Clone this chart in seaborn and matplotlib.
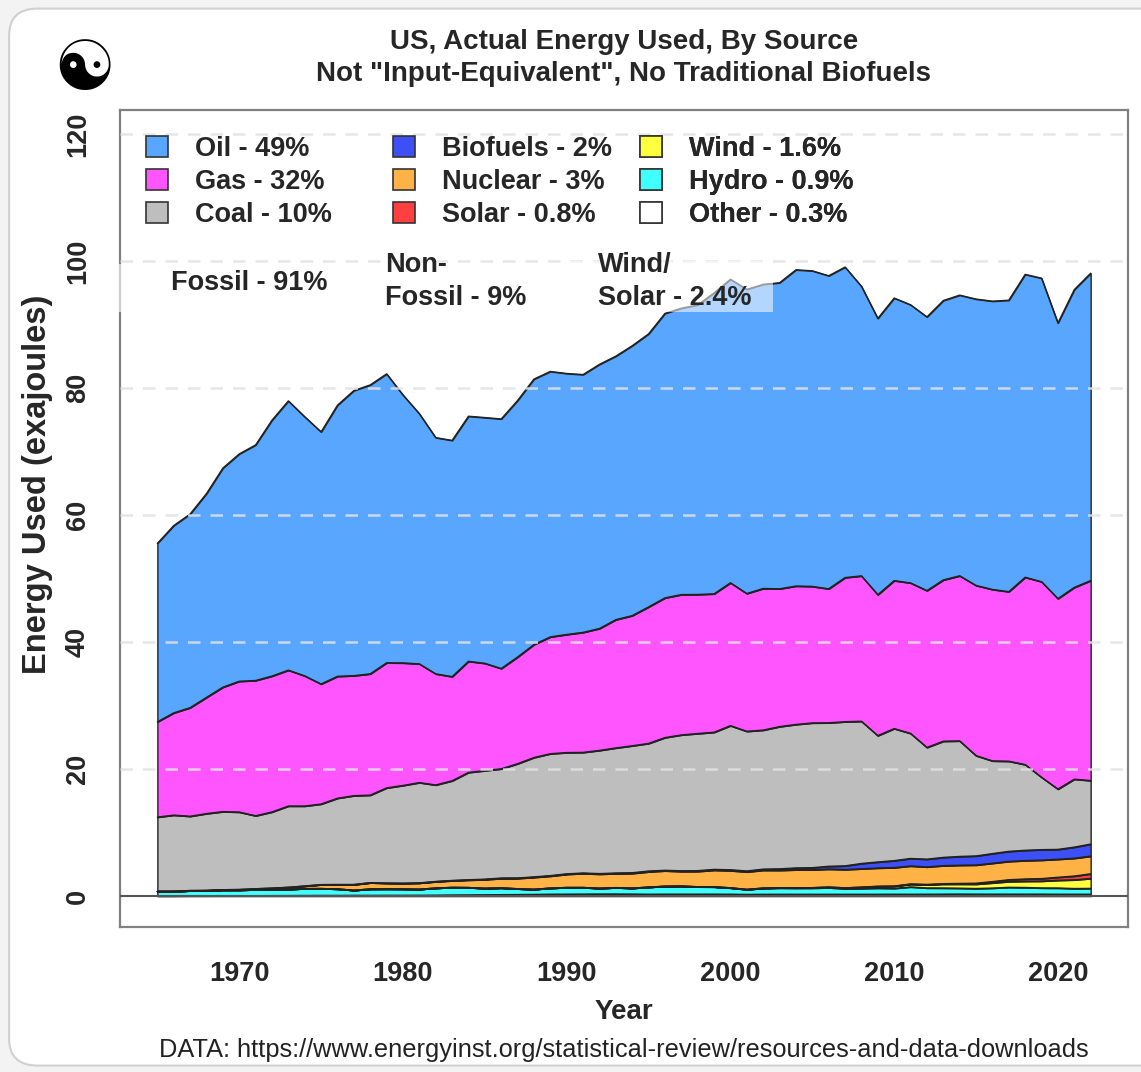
import numpy as np
import pandas as pd
import matplotlib
matplotlib.use('Agg')
import matplotlib.pyplot as plt
from matplotlib.patches import Patch, Rectangle, FancyBboxPatch
import seaborn as sns

# anos
years = list(range(1965, 2023))

# energia usada por fonte (EJ)
oil = [28.1, 29.5, 30.5, 32.1, 34.5, 35.8, 37.1, 40.3, 42.4, 40.8,
       39.7, 42.7, 44.9, 45.5, 45.5, 42.2, 39.4, 37.2, 37.2, 38.6,
       38.7, 39.3, 40.4, 41.8, 41.8, 41.1, 40.6, 41.6, 41.5, 42.5,
       43.0, 44.8, 45.1, 45.6, 47.4, 47.8, 47.9, 47.9, 48.2, 49.8,
       49.7, 49.3, 48.9, 45.6, 43.5, 44.5, 43.8, 43.1, 44.0, 44.2,
       45.1, 45.4, 45.9, 47.7, 47.8, 43.4, 46.9, 48.4]
gas = [15.0, 16.1, 17.1, 18.3, 19.6, 20.6, 21.3, 21.4, 21.4, 20.5,
       18.9, 19.2, 18.9, 19.1, 19.7, 19.3, 18.7, 17.5, 16.4, 17.5,
       16.9, 15.8, 16.8, 17.8, 18.4, 18.6, 18.9, 19.2, 20.2, 20.5,
       21.5, 22.0, 22.1, 21.9, 21.8, 22.5, 21.7, 22.3, 21.7, 21.8,
       21.5, 21.1, 22.7, 22.9, 22.2, 23.3, 23.7, 24.7, 25.4, 26.0,
       26.8, 27.0, 26.7, 29.5, 30.8, 30.0, 30.2, 31.5]
coal = [11.7, 12.0, 11.7, 12.1, 12.3, 12.2, 11.5, 12.0, 12.8, 12.6,
        12.7, 13.6, 14.0, 13.8, 15.0, 15.4, 15.8, 15.2, 15.7, 16.9,
        17.1, 17.2, 18.0, 18.8, 19.2, 19.1, 19.0, 19.4, 19.7, 20.0,
        20.1, 20.9, 21.4, 21.6, 21.6, 22.7, 22.0, 21.9, 22.4, 22.6,
        22.8, 22.6, 22.7, 22.4, 19.9, 20.8, 19.7, 17.6, 18.3, 18.2,
        15.8, 14.6, 14.2, 13.5, 11.4, 9.5, 10.7, 10.0]
biofuels = [0, 0, 0, 0, 0, 0, 0, 0, 0, 0,
            0, 0, 0, 0, 0, 0.01, 0.02, 0.03, 0.04, 0.05,
            0.06, 0.07, 0.07, 0.07, 0.07, 0.07, 0.07, 0.08, 0.09, 0.10,
            0.11, 0.08, 0.10, 0.11, 0.12, 0.13, 0.14, 0.17, 0.23, 0.29,
            0.33, 0.44, 0.58, 0.83, 0.95, 1.10, 1.18, 1.22, 1.30, 1.38,
            1.43, 1.52, 1.58, 1.62, 1.65, 1.55, 1.75, 1.90]
nuclear = [0.01, 0.02, 0.03, 0.05, 0.05, 0.08, 0.14, 0.20, 0.30, 0.41,
           0.62, 0.69, 0.90, 0.99, 0.92, 0.90, 0.98, 1.01, 1.06, 1.18,
           1.38, 1.49, 1.63, 1.89, 1.90, 2.08, 2.21, 2.23, 2.21, 2.32,
           2.42, 2.43, 2.31, 2.42, 2.62, 2.71, 2.76, 2.81, 2.75, 2.84,
           2.82, 2.83, 2.89, 2.89, 2.88, 2.91, 2.84, 2.76, 2.84, 2.87,
           2.87, 2.89, 2.89, 2.90, 2.91, 2.84, 2.81, 2.78]
solar = [0, 0, 0, 0, 0, 0, 0, 0, 0, 0,
         0, 0, 0, 0, 0, 0, 0, 0, 0, 0,
         0, 0, 0, 0, 0, 0, 0, 0, 0, 0,
         0, 0, 0, 0, 0, 0, 0, 0, 0, 0,
         0, 0, 0, 0.01, 0.01, 0.01, 0.03, 0.04, 0.07, 0.10,
         0.14, 0.20, 0.28, 0.35, 0.39, 0.47, 0.59, 0.74]
wind = [0, 0, 0, 0, 0, 0, 0, 0, 0, 0,
        0, 0, 0, 0, 0, 0, 0, 0, 0, 0,
        0, 0, 0, 0, 0, 0.01, 0.01, 0.01, 0.01, 0.01,
        0.01, 0.01, 0.01, 0.01, 0.02, 0.02, 0.02, 0.04, 0.04, 0.05,
        0.06, 0.10, 0.12, 0.20, 0.27, 0.34, 0.43, 0.51, 0.61, 0.65,
        0.69, 0.82, 0.91, 0.99, 1.08, 1.22, 1.37, 1.56]
hydro = [0.70, 0.70, 0.80, 0.80, 0.90, 0.90, 0.95, 0.98, 1.00, 1.08,
         1.08, 1.02, 0.80, 1.00, 1.00, 0.99, 0.94, 1.12, 1.20, 1.16,
         1.02, 1.06, 0.91, 0.80, 0.96, 1.04, 1.03, 0.90, 1.00, 0.93,
         1.11, 1.24, 1.26, 1.16, 1.14, 0.99, 0.77, 0.94, 0.99, 0.97,
         0.98, 1.04, 0.89, 0.92, 0.98, 0.93, 1.15, 0.99, 0.97, 0.93,
         0.89, 0.96, 1.08, 1.05, 0.98, 0.98, 0.90, 0.92]
other = [0.03, 0.03, 0.04, 0.04, 0.05, 0.05, 0.06, 0.07, 0.08, 0.09,
         0.10, 0.10, 0.11, 0.11, 0.12, 0.12, 0.13, 0.14, 0.16, 0.18,
         0.20, 0.22, 0.24, 0.26, 0.29, 0.30, 0.31, 0.32, 0.32, 0.31,
         0.29, 0.30, 0.30, 0.30, 0.30, 0.29, 0.26, 0.28, 0.28, 0.28,
         0.28, 0.28, 0.28, 0.28, 0.28, 0.29, 0.29, 0.29, 0.30, 0.31,
         0.30, 0.30, 0.30, 0.30, 0.30, 0.29, 0.29, 0.29]

# legenda (colunas: fosseis / nuclear+bio+solar / vento+hidro+outros)
legend_cols = [
    ['Oil - 49%', 'Gas - 32%', 'Coal - 10%'],
    ['Biofuels - 2%', 'Nuclear - 3%', 'Solar - 0.8%'],
    ['Wind - 1.6%', 'Hydro - 0.9%', 'Other - 0.3%'],
]
cores = {
    'Oil': '#58A6FF', 'Gas': '#FF55FF', 'Coal': '#BEBEBE',
    'Biofuels': '#3C50F5', 'Nuclear': '#FFB347', 'Solar': '#FF4040',
    'Wind': '#FFFF40', 'Hydro': '#40FFFF', 'Other': '#FFFFFF',
}

# ordem de empilhamento (de baixo para cima)
ordem = ['Other', 'Hydro', 'Wind', 'Solar', 'Nuclear', 'Biofuels', 'Coal', 'Gas', 'Oil']
series = {'Other': other, 'Hydro': hydro, 'Wind': wind, 'Solar': solar,
          'Nuclear': nuclear, 'Biofuels': biofuels, 'Coal': coal,
          'Gas': gas, 'Oil': oil}

sns.set_style('white')
plt.rcParams['font.family'] = ['Liberation Sans', 'DejaVu Sans']

fig = plt.figure(figsize=(11.41, 10.72), dpi=100)
fig.patch.set_facecolor('#f3f3f3')
fig.patches.append(FancyBboxPatch((0.008, 0.006), 1.05, 0.986,
                                  boxstyle='round,pad=0,rounding_size=0.025',
                                  transform=fig.transFigure, facecolor='white',
                                  edgecolor='#d0d0d0', lw=1.5, zorder=-5))

ax = fig.add_axes([0.1052, 0.1355, 0.8834, 0.7619])
ax.patch.set_alpha(0)

ax.stackplot(years, *[series[k] for k in ordem],
             colors=[cores[k] for k in ordem],
             edgecolor='#222222', linewidth=1.0, zorder=1)

# contornos das camadas
cum = np.cumsum(np.array([series[k] for k in ordem]), axis=0)
df = pd.DataFrame({'Year': np.tile(years, len(ordem)),
                   'top': cum.ravel(),
                   'source': np.repeat(ordem, len(years))})
sns.lineplot(data=df, x='Year', y='top', units='source', estimator=None,
             color='#222222', lw=1.0, ax=ax, legend=False, zorder=2)

# grade tracejada por cima
for g in [20, 40, 60, 80, 100, 120]:
    ax.axhline(g, color='#e2e2e2', lw=1.8, ls=(0, (5, 4)), alpha=0.85, zorder=3)
ax.axhline(0, color='#555555', lw=1.5, zorder=4)

ax.set_xlim(1962.72, 2024.28)
ax.set_ylim(-4.83, 123.8)
ax.set_xticks([1970, 1980, 1990, 2000, 2010, 2020])
ax.set_yticks([0, 20, 40, 60, 80, 100, 120])
ax.set_xlabel('')
ax.set_ylabel('')
for s in ax.spines.values():
    s.set_visible(True)
    s.set_color('#808080')
    s.set_linewidth(1.6)
ax.tick_params(axis='both', direction='out', length=12, width=1.5,
               color='#808080', labelsize=19.5)
ax.tick_params(axis='x', pad=13)
ax.tick_params(axis='y', pad=9)
for lab in ax.get_xticklabels():
    lab.set_fontweight('bold')
for lab in ax.get_yticklabels():
    lab.set_fontweight('bold')
    lab.set_rotation(90)
    lab.set_va('center')

# legendas em 3 colunas
x_cols = [0.0258, 0.2708, 0.5159]
for i, labels in enumerate(legend_cols):
    handles = [Patch(facecolor=cores[l.split(' - ')[0]], edgecolor='#333333', lw=1.2)
               for l in labels]
    leg = ax.legend(handles, labels, loc='upper left', bbox_to_anchor=(x_cols[i], 0.968),
                    prop={'weight': 'bold', 'size': 19.5}, frameon=False,
                    handlelength=0.8, handleheight=0.8, handletextpad=1.0,
                    labelspacing=0.26, borderpad=0, borderaxespad=0)
    leg.set_zorder(6)
    ax.add_artist(leg)

# caixas semi-transparentes atras dos textos
ax.add_patch(Rectangle((1962.0, 92.0), 14.7, 7.6, facecolor='white', alpha=0.6,
                       edgecolor='none', zorder=4.5, clip_on=False))
ax.add_patch(Rectangle((1990.0, 92.0), 12.6, 8.0, facecolor='white', alpha=0.55,
                       edgecolor='none', zorder=4.5, clip_on=False))

txt = dict(fontsize=19.5, fontweight='bold', va='center', ha='left',
           linespacing=1.33, zorder=6)
ax.text(1965.84, 96.6, 'Fossil - 91%', **txt)
ax.text(1978.9, 96.8, 'Non-\nFossil - 9%', **txt)
ax.text(1991.9, 96.8, 'Wind/\nSolar - 2.4%', **txt)

# logo (yin-yang)
fig.text(84 / 1141, 1 - 70 / 1072, '\u262F', ha='center', va='center',
         fontsize=50, family='DejaVu Sans', color='black')

# titulos e rotulos
fig.text(624 / 1141, 1 - 42 / 1072, 'US, Actual Energy Used, By Source',
         ha='center', va='center', fontsize=20, fontweight='bold')
fig.text(624 / 1141, 1 - 74 / 1072, 'Not "Input-Equivalent", No Traditional Biofuels',
         ha='center', va='center', fontsize=20, fontweight='bold')
fig.text(38 / 1141, 1 - 484 / 1072, 'Energy Used (exajoules)', rotation=90,
         ha='center', va='center', fontsize=23.5, fontweight='bold')
fig.text(624 / 1141, 1 - 1012 / 1072, 'Year', ha='center', va='center',
         fontsize=20, fontweight='bold')
fig.text(624 / 1141, 1 - 1050 / 1072,
         'DATA: https://www.energyinst.org/statistical-review/resources-and-data-downloads',
         ha='center', va='center', fontsize=18.3, color='#222222')

plt.savefig('out.png', dpi=100, facecolor=fig.get_facecolor())
plt.close()
